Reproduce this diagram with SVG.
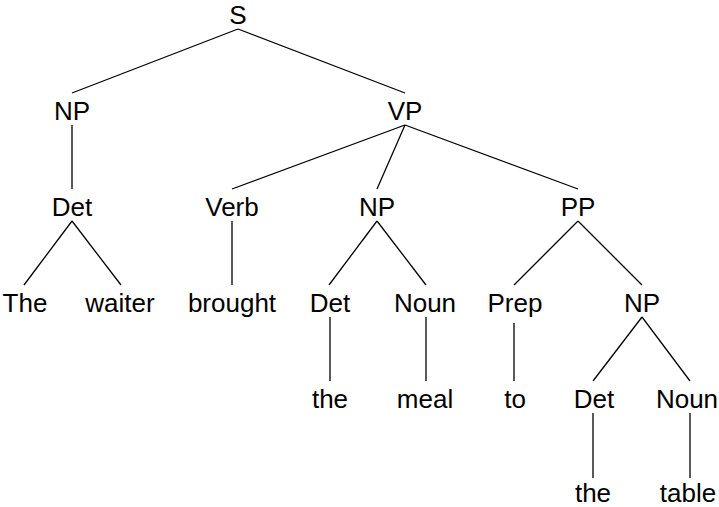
<svg xmlns="http://www.w3.org/2000/svg" width="719" height="507" viewBox="0 0 719 507">
  <style>
    text { font-family: "Liberation Sans", Arial, sans-serif; font-size: 26px; fill: #000; text-anchor: middle; }
    .edges line { stroke: #000; stroke-width: 1.3; }
  </style>
  <rect width="719" height="507" fill="#fff"/>

  <!-- tree edges: parent baseline+5 down to child baseline-27 -->
  <g id="edges" class="edges">
    <line x1="238" y1="29" x2="72" y2="93"/>
    <line x1="238" y1="29" x2="405" y2="93"/>
    <line x1="72" y1="125" x2="72" y2="189"/>
    <line x1="405" y1="125" x2="232" y2="189"/>
    <line x1="405" y1="125" x2="377" y2="189"/>
    <line x1="405" y1="125" x2="578" y2="189"/>
    <line x1="72" y1="221" x2="24" y2="285"/>
    <line x1="72" y1="221" x2="121" y2="285"/>
    <line x1="232" y1="221" x2="232" y2="285"/>
    <line x1="377" y1="221" x2="329" y2="285"/>
    <line x1="377" y1="221" x2="426" y2="285"/>
    <line x1="578" y1="221" x2="514" y2="285"/>
    <line x1="578" y1="221" x2="642" y2="285"/>
    <line x1="330" y1="317" x2="330" y2="381"/>
    <line x1="426" y1="317" x2="426" y2="381"/>
    <line x1="514" y1="323" x2="514" y2="381"/>
    <line x1="642" y1="317" x2="593" y2="381"/>
    <line x1="642" y1="317" x2="690" y2="381"/>
    <line x1="593" y1="413" x2="593" y2="478"/>
    <line x1="690" y1="413" x2="690" y2="478"/>
  </g>

  <g id="n-s"><text x="238" y="24">S</text></g>
  <g id="n-np1"><text x="72" y="120">NP</text></g>
  <g id="n-vp"><text x="405" y="120">VP</text></g>
  <g id="n-det1"><text x="72" y="216">Det</text></g>
  <g id="n-verb"><text x="232" y="216">Verb</text></g>
  <g id="n-np2"><text x="377" y="216">NP</text></g>
  <g id="n-pp"><text x="578" y="216">PP</text></g>
  <g id="n-the1"><text x="25" y="312">The</text></g>
  <g id="n-waiter"><text x="120" y="312">waiter</text></g>
  <g id="n-brought"><text x="232" y="312">brought</text></g>
  <g id="n-det2"><text x="330" y="312">Det</text></g>
  <g id="n-noun1"><text x="425" y="312">Noun</text></g>
  <g id="n-prep"><text x="515" y="312">Prep</text></g>
  <g id="n-np3"><text x="642" y="312">NP</text></g>
  <g id="n-the2"><text x="330" y="408">the</text></g>
  <g id="n-meal"><text x="425" y="408">meal</text></g>
  <g id="n-to"><text x="515" y="408">to</text></g>
  <g id="n-det3"><text x="594" y="408">Det</text></g>
  <g id="n-noun2"><text x="687" y="408">Noun</text></g>
  <g id="n-the3"><text x="593" y="502">the</text></g>
  <g id="n-table"><text x="688" y="502">table</text></g>
</svg>
